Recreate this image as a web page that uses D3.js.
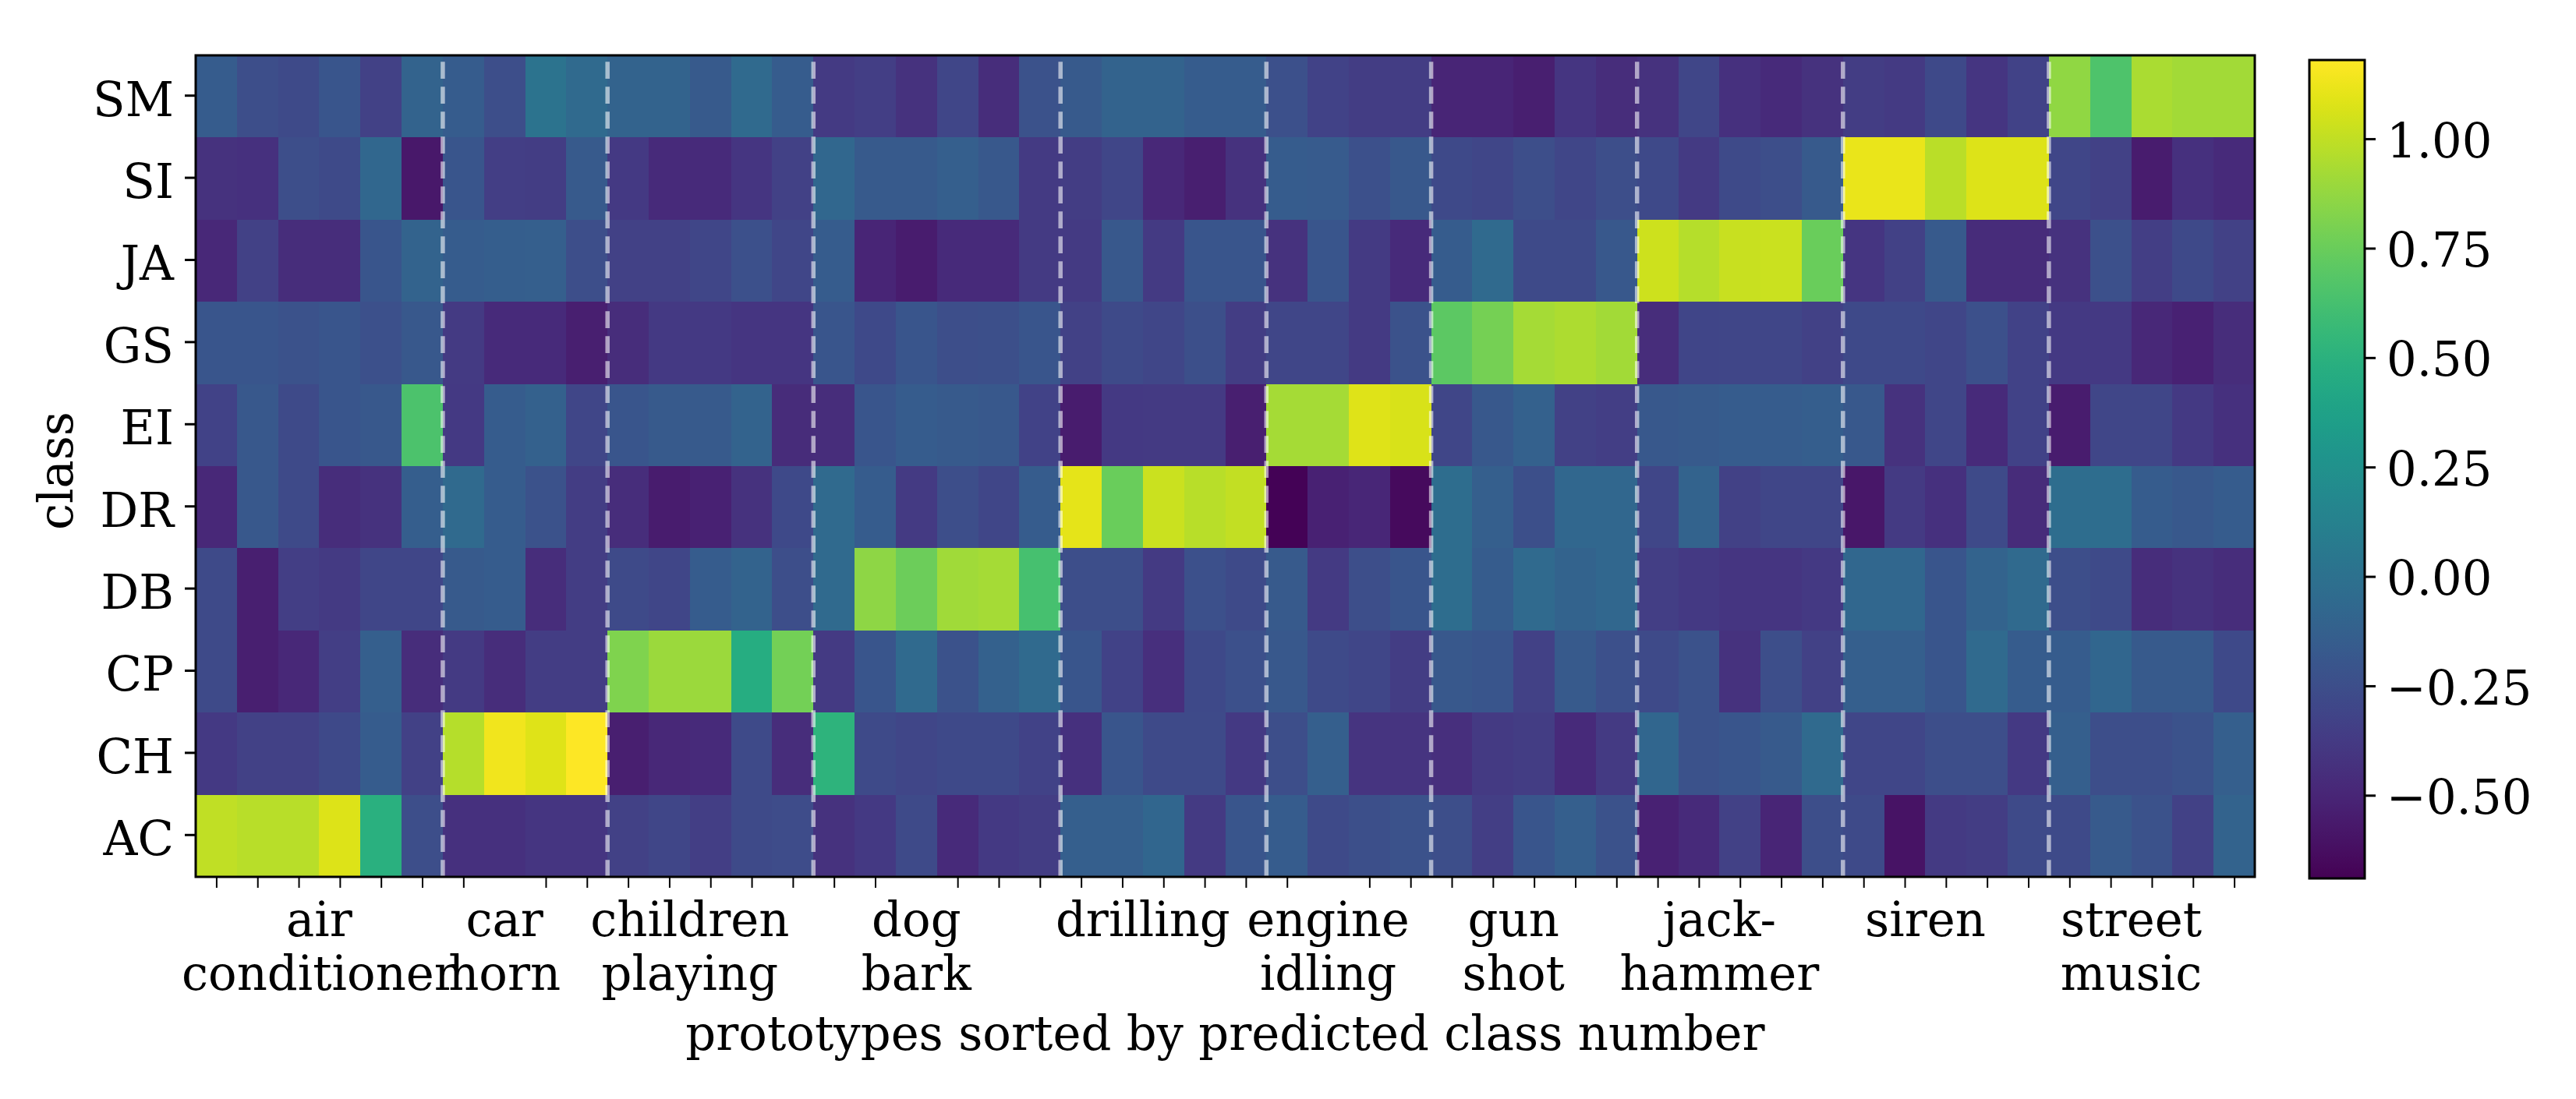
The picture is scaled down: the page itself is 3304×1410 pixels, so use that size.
<!DOCTYPE html>
<html>
<head>
<meta charset="utf-8">
<script src="https://cdn.jsdelivr.net/npm/d3@7"></script>
<style>
html,body{margin:0;padding:0;background:#fff;}
svg{display:block;}
text{font-family:"DejaVu Serif",serif;fill:#000;}
</style>
</head>
<body>
<svg id="chart" width="3304" height="1410"></svg>
<script>
const rowLabels = ["SM","SI","JA","GS","EI","DR","DB","CP","CH","AC"];
const SM = [-.15,-.25,-.27,-.2,-.33,-.1,-.15,-.25,.02,-.05,-.1,-.1,-.17,-.05,-.15,-.37,-.35,-.42,-.3,-.45,-.22,-.17,-.1,-.1,-.15,-.15,-.23,-.32,-.36,-.36,-.5,-.5,-.53,-.4,-.45,-.42,-.3,-.43,-.47,-.42,-.36,-.37,-.28,-.4,-.32,.87,.66,.94,.92,.92];
const SI = [-.42,-.43,-.25,-.27,-.07,-.57,-.2,-.35,-.36,-.17,-.38,-.47,-.47,-.4,-.33,-.07,-.17,-.17,-.13,-.18,-.37,-.36,-.3,-.48,-.53,-.42,-.15,-.16,-.23,-.18,-.28,-.3,-.25,-.3,-.25,-.28,-.37,-.27,-.25,-.17,1.12,1.12,.99,1.08,1.08,-.3,-.33,-.55,-.43,-.47];
const JA = [-.48,-.33,-.45,-.45,-.2,-.1,-.15,-.14,-.13,-.25,-.33,-.33,-.3,-.23,-.3,-.15,-.5,-.55,-.47,-.47,-.37,-.37,-.18,-.37,-.2,-.2,-.42,-.2,-.37,-.47,-.15,-.05,-.27,-.27,-.18,1.04,.97,1.02,1.03,.75,-.4,-.33,-.17,-.46,-.46,-.42,-.23,-.35,-.28,-.33];
const GS = [-.2,-.2,-.22,-.2,-.23,-.18,-.37,-.47,-.47,-.53,-.45,-.38,-.38,-.4,-.4,-.2,-.28,-.2,-.25,-.24,-.2,-.33,-.27,-.3,-.24,-.36,-.3,-.3,-.37,-.22,.71,.79,.93,.95,.92,-.45,-.31,-.3,-.3,-.33,-.28,-.28,-.3,-.23,-.32,-.38,-.38,-.48,-.52,-.45];
const EI = [-.32,-.18,-.27,-.2,-.18,.65,-.38,-.15,-.12,-.3,-.2,-.17,-.17,-.1,-.46,-.45,-.2,-.15,-.17,-.18,-.32,-.55,-.38,-.37,-.37,-.53,.93,.93,1.09,1.07,-.3,-.18,-.12,-.33,-.35,-.18,-.17,-.15,-.15,-.14,-.18,-.42,-.3,-.47,-.32,-.55,-.3,-.3,-.38,-.43];
const DR = [-.48,-.18,-.27,-.45,-.42,-.14,-.05,-.15,-.22,-.36,-.45,-.55,-.52,-.42,-.28,-.05,-.15,-.37,-.25,-.3,-.15,1.1,.75,1.03,.98,1.01,-.68,-.52,-.49,-.64,-.03,-.13,-.24,-.07,-.07,-.3,-.1,-.33,-.3,-.3,-.58,-.37,-.43,-.27,-.46,-.03,-.03,-.15,-.18,-.15];
const DB = [-.27,-.53,-.35,-.37,-.3,-.3,-.17,-.15,-.45,-.36,-.27,-.3,-.15,-.1,-.25,-.05,.86,.76,.91,.93,.63,-.25,-.25,-.37,-.23,-.27,-.17,-.37,-.25,-.2,-.03,-.15,-.05,-.1,-.07,-.35,-.38,-.4,-.4,-.38,-.07,-.07,-.2,-.1,-.05,-.25,-.27,-.45,-.42,-.45];
const CP = [-.27,-.53,-.48,-.35,-.13,-.45,-.37,-.45,-.36,-.36,.82,.9,.9,.47,.78,-.37,-.2,-.05,-.22,-.12,-.05,-.2,-.32,-.44,-.28,-.23,-.18,-.27,-.3,-.36,-.18,-.2,-.33,-.17,-.23,-.27,-.22,-.42,-.25,-.33,-.13,-.13,-.2,-.05,-.15,-.15,-.08,-.17,-.17,-.28];
const CH = [-.38,-.33,-.33,-.28,-.15,-.33,.97,1.14,1.09,1.18,-.53,-.48,-.47,-.27,-.45,.52,-.27,-.3,-.28,-.28,-.32,-.43,-.2,-.27,-.27,-.38,-.25,-.13,-.41,-.41,-.44,-.37,-.36,-.47,-.37,-.08,-.22,-.2,-.17,-.05,-.3,-.3,-.25,-.25,-.38,-.13,-.25,-.25,-.22,-.13];
const AC = [1.0,.98,.98,1.08,.5,-.25,-.43,-.43,-.4,-.4,-.33,-.3,-.35,-.27,-.26,-.42,-.38,-.27,-.47,-.38,-.36,-.13,-.13,-.08,-.37,-.2,-.15,-.27,-.24,-.22,-.25,-.35,-.2,-.13,-.22,-.52,-.47,-.33,-.5,-.25,-.27,-.6,-.37,-.36,-.27,-.27,-.17,-.22,-.33,-.1];
const rows = [SM,SI,JA,GS,EI,DR,DB,CP,CH,AC];

const groupEdges = [6,10,15,21,26,30,35,40,45];
const groupLabelPositions = [3,7.5,12,17.5,23,27.5,32,37,42,47];
const groupLabelLine1 = ["air","car","children","dog","drilling","engine","gun","jack-","siren","street"];
const groupLabelLine2 = ["conditioner","horn","playing","bark","","idling","shot","hammer","","music"];
const hiddenMinorTicks = [7,17,27];
const colorbarTicks = [-.5,-.25,0,.25,.5,.75,1];
const valueMin = -.69, valueMax = 1.18;

const P = {l:251, r:2892, t:71, b:1125};
const CB = {l:2962, r:3033, t:77, b:1127};
const FS = 60.8;

const svg = d3.select("#chart");
const color = d3.scaleSequential(d3.interpolateViridis).domain([valueMin,valueMax]);
const x = d3.scaleLinear().domain([0,50]).range([P.l,P.r]);
const y = d3.scaleBand().domain(rowLabels).range([P.t,P.b]).paddingInner(0).paddingOuter(0);

const gCells = svg.append("g").attr("shape-rendering","crispEdges");
rows.forEach((vals,ri)=>{
  gCells.selectAll(null).data(vals).join("rect")
    .attr("x",(d,i)=>x(i)).attr("width",(d,i)=>x(i+1)-x(i))
    .attr("y",y(rowLabels[ri])).attr("height",y.bandwidth())
    .attr("fill",d=>color(d));
});

svg.append("g").selectAll("line").data(groupEdges).join("line")
  .attr("x1",d=>x(d)).attr("x2",d=>x(d)).attr("y1",P.b).attr("y2",P.t)
  .attr("stroke","#fff").attr("stroke-opacity",.58).attr("stroke-width",5.5)
  .attr("stroke-dasharray","21.7 10.3");

svg.append("rect").attr("x",P.l).attr("y",P.t).attr("width",P.r-P.l).attr("height",P.b-P.t)
  .attr("fill","none").attr("stroke","#000").attr("stroke-width",3);

// y axis
const yAxis = svg.append("g").attr("transform",`translate(${P.l},0)`)
  .call(d3.axisLeft(y).tickSize(14).tickPadding(14));
yAxis.select(".domain").remove();
yAxis.selectAll("line").attr("stroke","#000").attr("stroke-width",3).attr("y1",-1).attr("y2",-1);
yAxis.selectAll("text").attr("font-size",FS).attr("font-family","DejaVu Serif").attr("dy","0.41em");

// x minor ticks
const minor = d3.range(50).filter(i=>!hiddenMinorTicks.includes(i)).map(i=>i+.5);
const xAxis = svg.append("g").attr("transform",`translate(0,${P.b})`)
  .call(d3.axisBottom(x).tickValues(minor).tickSize(14).tickFormat(""));
xAxis.select(".domain").remove();
xAxis.selectAll("line").attr("stroke","#000").attr("stroke-width",2);

// group labels
svg.append("g").selectAll("text").data(groupLabelPositions).join("text")
  .attr("x",d=>x(d)).attr("y",1201).attr("text-anchor","middle").attr("font-size",FS)
  .text((d,i)=>groupLabelLine1[i]);
svg.append("g").selectAll("text").data(groupLabelPositions).join("text")
  .attr("x",d=>x(d)).attr("y",1270).attr("text-anchor","middle").attr("font-size",FS)
  .text((d,i)=>groupLabelLine2[i]);

svg.append("text").attr("x",(P.l+P.r)/2).attr("y",1347).attr("text-anchor","middle")
  .attr("font-size",FS).text("prototypes sorted by predicted class number");
svg.append("text").attr("transform",`translate(93,${(P.t+P.b)/2+6}) rotate(-90)`)
  .attr("text-anchor","middle").attr("font-size",FS).text("class");

// colorbar
const defs = svg.append("defs");
const grad = defs.append("linearGradient").attr("id","cb").attr("x1",0).attr("x2",0).attr("y1",1).attr("y2",0);
grad.selectAll("stop").data(d3.range(0,1.0001,1/64)).join("stop")
  .attr("offset",d=>d).attr("stop-color",d=>d3.interpolateViridis(d));
svg.append("rect").attr("x",CB.l).attr("y",CB.t).attr("width",CB.r-CB.l).attr("height",CB.b-CB.t)
  .attr("fill","url(#cb)").attr("stroke","#000").attr("stroke-width",3);
const cy = d3.scaleLinear().domain([valueMin,valueMax]).range([CB.b,CB.t]);
const cAxis = svg.append("g").attr("transform",`translate(${CB.r},0)`)
  .call(d3.axisRight(cy).tickValues(colorbarTicks).tickSize(14).tickPadding(14).tickFormat(d3.format(".2f")));
cAxis.select(".domain").remove();
cAxis.selectAll("line").attr("stroke","#000").attr("stroke-width",3);
cAxis.selectAll("text").attr("font-size",FS).attr("font-family","DejaVu Serif").attr("dy","0.38em");
</script>
</body>
</html>
